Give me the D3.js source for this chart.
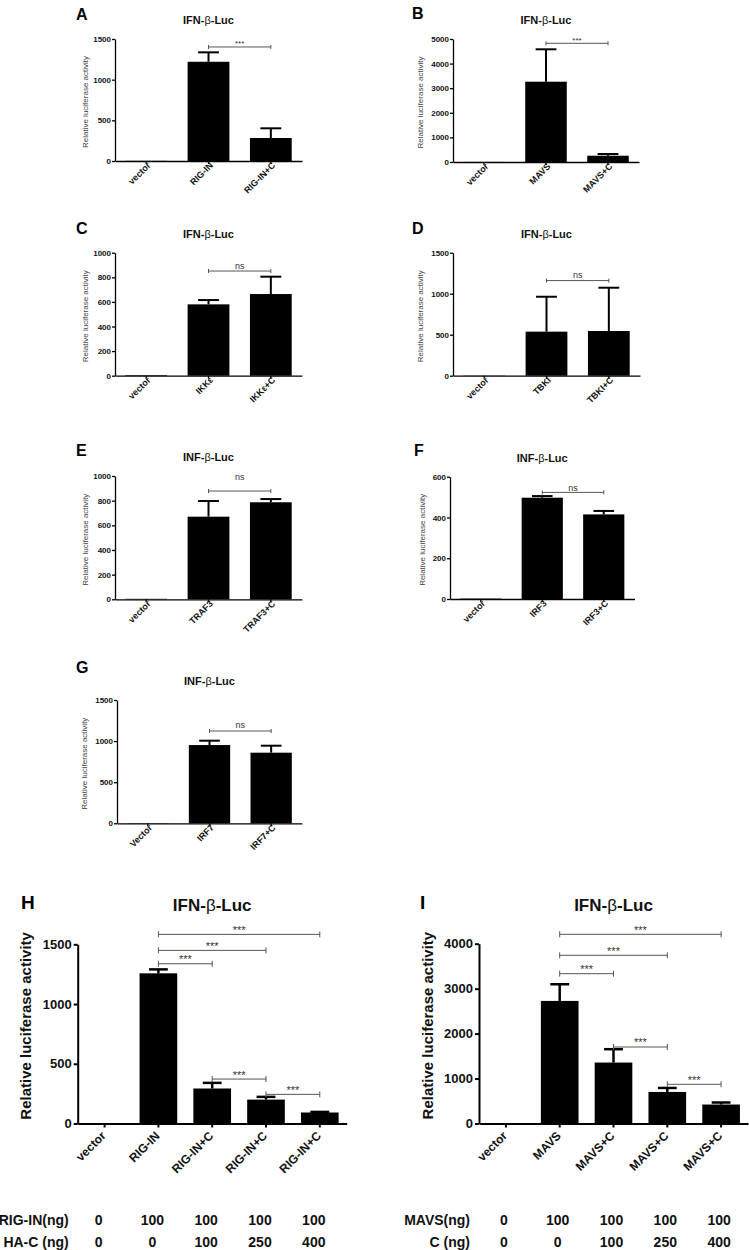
<!DOCTYPE html>
<html>
<head>
<meta charset="utf-8">
<script src="https://cdn.jsdelivr.net/npm/d3@7"></script>
<style>
  body { margin: 0; background: #fff; }
  svg { display: block; font-family: 'Liberation Sans', Arial, sans-serif; }
</style>
</head>
<body>
<svg id="fig" width="749" height="1250"></svg>
<script>
// ---- data ----
const catsA = ['vector', 'RIG-IN', 'RIG-IN+C'];
const valsA = [2, 1220, 283];
const errA = [0, 116, 119];
const ticksA = [0, 500, 1000, 1500];
const sigA = [{ from: 1, to: 2, at: 1402, label: '***' }];

const catsB = ['vector', 'MAVS', 'MAVS+C'];
const valsB = [3, 3264, 256];
const errB = [0, 1317, 69];
const ticksB = [0, 1000, 2000, 3000, 4000, 5000];
const sigB = [{ from: 1, to: 2, at: 4825, label: '***' }];

const catsC = ['vector', 'IKKε', 'IKKε+C'];
const valsC = [5, 580, 664];
const errC = [0, 35, 141];
const ticksC = [0, 200, 400, 600, 800, 1000];
const sigC = [{ from: 1, to: 2, at: 851, label: 'ns' }];

const catsD = ['vector', 'TBKI', 'TBKI+C'];
const valsD = [3, 537, 545];
const errD = [0, 426, 528];
const ticksD = [0, 500, 1000, 1500];
const sigD = [{ from: 1, to: 2, at: 1160, label: 'ns' }];

const catsE = ['vector', 'TRAF3', 'TRAF3+C'];
const valsE = [4, 670, 787];
const errE = [0, 127, 26];
const ticksE = [0, 200, 400, 600, 800, 1000];
const sigE = [{ from: 1, to: 2, at: 878, label: 'ns' }];

const catsF = ['vector', 'IRF3', 'IRF3+C'];
const valsF = [2, 497, 415];
const errF = [0, 8, 17];
const ticksF = [0, 200, 400, 600];
const sigF = [{ from: 1, to: 2, at: 523, label: 'ns' }];

const catsG = ['Vector', 'IRF7', 'IRF7+C'];
const valsG = [3, 952, 859];
const errG = [0, 53, 85];
const ticksG = [0, 500, 1000, 1500];
const sigG = [{ from: 1, to: 2, at: 1123, label: 'ns' }];

const catsH = ['vector', 'RIG-IN', 'RIG-IN+C', 'RIG-IN+C', 'RIG-IN+C'];
const valsH = [0, 1257, 293, 200, 92];
const errH = [0, 33, 47, 23, 5];
const ticksH = [0, 500, 1000, 1500];
const sigH = [
  { from: 1, to: 4, at: 1583, label: '***' },
  { from: 1, to: 3, at: 1449, label: '***' },
  { from: 1, to: 2, at: 1337, label: '***' },
  { from: 2, to: 3, at: 372, label: '***' },
  { from: 3, to: 4, at: 244, label: '***' },
];
const rowsH = ['RIG-IN(ng)', 'HA-C (ng)'];
const doseH1 = [0, 100, 100, 100, 100];
const doseH2 = [0, 0, 100, 250, 400];

const catsI = ['vector', 'MAVS', 'MAVS+C', 'MAVS+C', 'MAVS+C'];
const valsI = [0, 2727, 1356, 702, 422];
const errI = [0, 371, 297, 89, 45];
const ticksI = [0, 1000, 2000, 3000, 4000];
const sigI = [
  { from: 1, to: 4, at: 4209, label: '***' },
  { from: 1, to: 3, at: 3742, label: '***' },
  { from: 1, to: 2, at: 3333, label: '***' },
  { from: 2, to: 3, at: 1702, label: '***' },
  { from: 3, to: 4, at: 872, label: '***' },
];
const rowsI = ['MAVS(ng)', 'C (ng)'];
const doseI1 = [0, 100, 100, 100, 100];
const doseI2 = [0, 0, 100, 250, 400];

// ---- styles for the two panel sizes ----
const SMALL = {
  pad: 0.33, tick: 3, tickPad: 1, tickFont: 8, xlabFont: 9, titleFont: 11, titleLift: 15,
  letterFont: 16, ylabFont: 8, ylabWeight: 'normal', ylabColor: '#444', ylabShift: 2,
  axisWidth: 1.3, errWidth: 2, sigFont: 8, nsFont: 9, cap: 2, xlabShift: [5, 5],
};
const LARGE = {
  pad: 0.3, tick: 4, tickPad: 2, tickFont: 13, xlabFont: 12, titleFont: 17, titleLift: 33,
  letterFont: 19, ylabFont: 15, ylabWeight: 'bold', ylabColor: '#111', ylabShift: -8,
  axisWidth: 2, errWidth: 2.5, sigFont: 11, nsFont: 11, cap: 3, xlabShift: [2, 13],
};

// ---- layout (pixel frame of each panel) ----
const panels = [
  { id: 'A', title: 'IFN', cats: catsA, vals: valsA, errs: errA, ticks: ticksA, sig: sigA,
    x0: 115, x1: 302, top: 39, base: 161, letter: [76, 20], ylabOff: 30, nsLift: 2 },
  { id: 'B', title: 'IFN', cats: catsB, vals: valsB, errs: errB, ticks: ticksB, sig: sigB,
    x0: 453, x1: 639, top: 39, base: 162, letter: [412, 19], ylabOff: 33, nsLift: 2 },
  { id: 'C', title: 'IFN', cats: catsC, vals: valsC, errs: errC, ticks: ticksC, sig: sigC,
    x0: 115, x1: 302, top: 252.7, base: 375.7, letter: [76, 234], ylabOff: 30, nsLift: 2.5 },
  { id: 'D', title: 'IFN', cats: catsD, vals: valsD, errs: errD, ticks: ticksD, sig: sigD,
    x0: 453, x1: 640, top: 252.7, base: 375.7, letter: [412, 234], ylabOff: 33, nsLift: 2.5 },
  { id: 'E', title: 'INF', cats: catsE, vals: valsE, errs: errE, ticks: ticksE, sig: sigE,
    x0: 115, x1: 302, top: 476, base: 599.3, letter: [76, 455.7], ylabOff: 30, nsLift: 11 },
  { id: 'F', title: 'INF', cats: catsF, vals: valsF, errs: errF, ticks: ticksF, sig: sigF,
    x0: 450, x1: 634.5, top: 476.7, base: 599, letter: [414, 455.7], ylabOff: 28, nsLift: 1.5 },
  { id: 'G', title: 'INF', cats: catsG, vals: valsG, errs: errG, ticks: ticksG, sig: sigG,
    x0: 117, x1: 302, top: 700, base: 823.3, letter: [76, 673.3], ylabOff: 33, nsLift: 2.5 },
];
const bigPanels = [
  { id: 'H', title: 'IFN', cats: catsH, vals: valsH, errs: errH, ticks: ticksH, sig: sigH,
    x0: 77.7, x1: 346.7, top: 944.3, base: 1123.5, letter: [21, 909], ylabOff: 52, nsLift: 1,
    rows: rowsH, dose: [doseH1, doseH2], doseShift: -6 },
  { id: 'I', title: 'IFN', cats: catsI, vals: valsI, errs: errI, ticks: ticksI, sig: sigI,
    x0: 479, x1: 748, top: 943.7, base: 1123.5, letter: [420, 909], ylabOff: 51, nsLift: 1,
    rows: rowsI, dose: [doseI1, doseI2], doseShift: -2 },
];

const svg = d3.select('#fig');
svg.append('rect').attr('width', 749).attr('height', 1250).attr('fill', '#fff');

function drawPanel(cfg, st) {
  const g = svg.append('g').attr('class', 'panel-' + cfg.id);
  const idx = d3.range(cfg.cats.length);

  const x = d3.scaleBand()
    .domain(idx)
    .range([cfg.x0, cfg.x1])
    .paddingInner(st.pad)
    .paddingOuter(st.pad / 2);
  const y = d3.scaleLinear()
    .domain([0, d3.max(cfg.ticks)])
    .range([cfg.base, cfg.top]);
  const cx = (i) => x(i) + x.bandwidth() / 2;

  // bars
  g.selectAll('rect.bar')
    .data(cfg.vals)
    .join('rect')
    .attr('class', 'bar')
    .attr('x', (d, i) => x(i))
    .attr('width', x.bandwidth())
    .attr('y', (d) => y(d))
    .attr('height', (d) => cfg.base - y(d))
    .attr('fill', '#000');

  // upper error bars
  const capHalf = x.bandwidth() * 0.25;
  cfg.vals.forEach((v, i) => {
    const e = cfg.errs[i];
    if (!e) return;
    g.append('line')
      .attr('x1', cx(i)).attr('x2', cx(i))
      .attr('y1', y(v)).attr('y2', y(v + e))
      .attr('stroke', '#000').attr('stroke-width', st.errWidth);
    g.append('line')
      .attr('x1', cx(i) - capHalf).attr('x2', cx(i) + capHalf)
      .attr('y1', y(v + e)).attr('y2', y(v + e))
      .attr('stroke', '#000').attr('stroke-width', st.errWidth);
  });

  // y axis
  const yAxis = g.append('g')
    .attr('transform', `translate(${cfg.x0},0)`)
    .call(d3.axisLeft(y).tickValues(cfg.ticks).tickSize(st.tick).tickSizeOuter(0)
      .tickPadding(st.tickPad).tickFormat(d3.format('d')));
  yAxis.attr('font-family', null);
  yAxis.selectAll('path, line').attr('stroke', '#000').attr('stroke-width', st.axisWidth);
  yAxis.selectAll('text')
    .attr('font-size', st.tickFont).attr('font-weight', 'bold').attr('fill', '#111');

  // x axis (labels drawn separately, rotated)
  const xAxis = g.append('g')
    .attr('transform', `translate(0,${cfg.base})`)
    .call(d3.axisBottom(x).tickSize(st.tick).tickSizeOuter(0).tickFormat(''));
  xAxis.selectAll('path, line').attr('stroke', '#000').attr('stroke-width', st.axisWidth);
  xAxis.selectAll('text').remove();

  g.selectAll('text.xlab')
    .data(cfg.cats)
    .join('text')
    .attr('class', 'xlab')
    .attr('text-anchor', 'end')
    .attr('font-size', st.xlabFont)
    .attr('font-weight', 'bold')
    .attr('fill', '#111')
    .style('transform-box', 'view-box')
    .style('transform-origin', '0 0')
    .style('transform', (d, i) =>
      `translate(${cx(i) + st.xlabShift[0]}px,${cfg.base + st.xlabShift[1]}px) rotate(-45deg)`)
    .text((d) => d);

  // y label
  g.append('text')
    .attr('transform', `translate(${cfg.x0 - cfg.ylabOff},${(cfg.top + cfg.base) / 2 + st.ylabShift}) rotate(-90)`)
    .attr('text-anchor', 'middle')
    .attr('dy', '0.35em')
    .attr('font-size', st.ylabFont)
    .attr('font-weight', st.ylabWeight)
    .attr('fill', st.ylabColor)
    .text('Relative luciferase activity');

  // title
  const t = g.append('text')
    .attr('x', (cfg.x0 + cfg.x1) / 2)
    .attr('y', cfg.top - st.titleLift)
    .attr('text-anchor', 'middle')
    .attr('font-size', st.titleFont)
    .attr('font-weight', 'bold')
    .attr('fill', '#111');
  t.append('tspan').text(cfg.title + '-');
  t.append('tspan').attr('font-weight', 'normal').text('β');
  t.append('tspan').text('-Luc');

  // panel letter
  g.append('text')
    .attr('x', cfg.letter[0]).attr('y', cfg.letter[1])
    .attr('font-size', st.letterFont).attr('font-weight', 'bold')
    .attr('fill', '#000')
    .text(cfg.id);

  // significance brackets
  cfg.sig.forEach((s) => {
    const yy = y(s.at);
    const xa = cx(s.from);
    const xb = cx(s.to);
    const bg = g.append('g').attr('stroke', '#555').attr('stroke-width', 1);
    bg.append('line').attr('x1', xa).attr('x2', xb).attr('y1', yy).attr('y2', yy);
    bg.append('line').attr('x1', xa).attr('x2', xa).attr('y1', yy - st.cap).attr('y2', yy + st.cap);
    bg.append('line').attr('x1', xb).attr('x2', xb).attr('y1', yy - st.cap).attr('y2', yy + st.cap);
    const isNs = s.label === 'ns';
    g.append('text')
      .attr('x', (xa + xb) / 2)
      .attr('y', yy - (isNs ? cfg.nsLift : 0.5))
      .attr('text-anchor', 'middle')
      .attr('font-size', isNs ? st.nsFont : st.sigFont)
      .attr('fill', '#333')
      .text(s.label);
  });

  // dose table under the large panels
  if (cfg.rows) {
    const rowY = [cfg.base + 101, cfg.base + 123];
    cfg.rows.forEach((label, r) => {
      g.append('text')
        .attr('x', cfg.x0 - 9).attr('y', rowY[r])
        .attr('text-anchor', 'end')
        .attr('font-size', 14).attr('font-weight', 'bold').attr('fill', '#111')
        .text(label);
      g.selectAll(null)
        .data(cfg.dose[r])
        .join('text')
        .attr('x', (d, i) => cx(i) + cfg.doseShift)
        .attr('y', rowY[r])
        .attr('text-anchor', 'middle')
        .attr('font-size', 14).attr('font-weight', 'bold').attr('fill', '#111')
        .text((d) => d);
    });
  }
}

panels.forEach((p) => drawPanel(p, SMALL));
bigPanels.forEach((p) => drawPanel(p, LARGE));
</script>
</body>
</html>
